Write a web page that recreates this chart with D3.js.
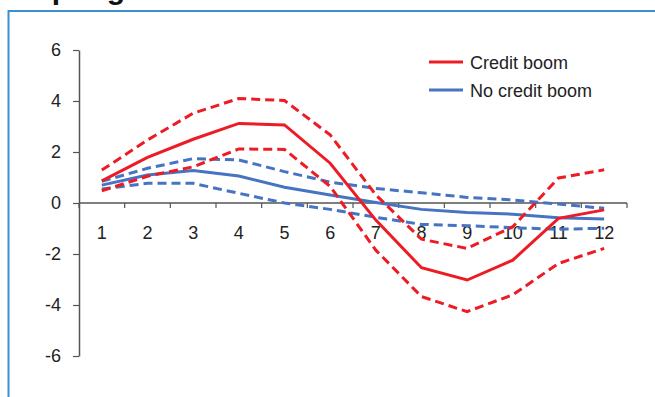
<!DOCTYPE html>
<html>
<head>
<meta charset="utf-8">
<script src="https://cdn.jsdelivr.net/npm/d3@7"></script>
<style>
  html, body { margin: 0; padding: 0; background: #fff; }
  svg { display: block; font-family: Arial, "Liberation Sans", Helvetica, sans-serif; }
</style>
</head>
<body>
<svg id="chart" width="655" height="397"></svg>
<script>
const categories = ["1","2","3","4","5","6","7","8","9","10","11","12"];
const yTicks = [-6, -4, -2, 0, 2, 4, 6];
const creditBoom      = [0.87, 1.79, 2.50, 3.12, 3.06, 1.56, -0.67, -2.54, -3.02, -2.24, -0.60, -0.27];
const creditBoomUpper = [1.29, 2.47, 3.52, 4.10, 4.02, 2.67, 0.32, -1.42, -1.78, -0.93, 0.98, 1.30];
const creditBoomLower = [0.48, 1.05, 1.42, 2.12, 2.10, 0.65, -1.85, -3.67, -4.26, -3.60, -2.37, -1.78];
const noCreditBoom      = [0.70, 1.10, 1.27, 1.06, 0.62, 0.31, 0.02, -0.25, -0.37, -0.44, -0.58, -0.63];
const noCreditBoomUpper = [0.85, 1.36, 1.74, 1.69, 1.23, 0.82, 0.57, 0.40, 0.22, 0.12, -0.04, -0.21];
const noCreditBoomLower = [0.55, 0.77, 0.77, 0.38, 0.00, -0.25, -0.56, -0.84, -0.89, -0.97, -1.03, -0.99];
const legendLabels = ["Credit boom", "No credit boom"];
const titleText = "Output growth";

const RED = "#ED1C24", BLUE = "#4673C2", FRAME = "#3B8FD0", AXIS = "#555";
const FS = 18;

const svg = d3.select("#chart");

// cut-off title above frame (only descenders visible, as in the reference)
svg.append("text").attr("x", 0).attr("y", -1.5)
  .attr("font-size", 30).attr("font-weight", "bold").attr("fill", "#111")
  .text(titleText);

// frame
svg.append("line").attr("x1", 8).attr("x2", 655).attr("y1", 11).attr("y2", 11)
  .attr("stroke", FRAME).attr("stroke-width", 2);
svg.append("line").attr("x1", 8.5).attr("x2", 8.5).attr("y1", 10).attr("y2", 397)
  .attr("stroke", FRAME).attr("stroke-width", 2);

const x = d3.scaleBand().domain(categories).range([79, 627]).padding(0);
const y = d3.scaleLinear().domain([-6, 6]).range([356, 50]);
const cx = c => x(c) + x.bandwidth() / 2;

// y axis
const yAxis = d3.axisLeft(y).tickValues(yTicks).tickSize(6).tickSizeOuter(0).tickPadding(12)
  .tickFormat(d => String(d));
const gy = svg.append("g").attr("transform", "translate(79,0)").call(yAxis);
gy.select(".domain").attr("stroke", AXIS).attr("stroke-width", 1.5);
gy.selectAll(".tick line").attr("stroke", AXIS).attr("stroke-width", 1.2);
gy.selectAll(".tick text").attr("font-size", FS).attr("fill", "#222")
  .attr("font-family", "Arial, 'Liberation Sans', sans-serif");

// x axis at zero: tick marks at band boundaries
const xAxisG = svg.append("g");
xAxisG.append("line").attr("x1", x.range()[0]).attr("x2", x.range()[1])
  .attr("y1", y(0)).attr("y2", y(0)).attr("stroke", AXIS).attr("stroke-width", 1.5);
const bounds = categories.map(c => x(c)).concat([x.range()[1]]);
xAxisG.selectAll("line.tk").data(bounds).join("line").attr("class", "tk")
  .attr("x1", d => d).attr("x2", d => d).attr("y1", y(0)).attr("y2", y(0) + 5)
  .attr("stroke", AXIS).attr("stroke-width", 1.2);
xAxisG.selectAll("text").data(categories).join("text")
  .attr("x", d => cx(d)).attr("y", y(0) + 36).attr("text-anchor", "middle")
  .attr("font-size", FS).attr("fill", "#222").text(d => d);

// lines
const line = d3.line().x((d, i) => cx(categories[i])).y(d => y(d));
const series = [
  { v: noCreditBoomUpper, c: BLUE, dash: "9,5" },
  { v: noCreditBoomLower, c: BLUE, dash: "9,5" },
  { v: noCreditBoom, c: BLUE, dash: null },
  { v: creditBoomUpper, c: RED, dash: "9,5" },
  { v: creditBoomLower, c: RED, dash: "9,5" },
  { v: creditBoom, c: RED, dash: null }
];
svg.selectAll("path.series").data(series).join("path").attr("class", "series")
  .attr("d", d => line(d.v)).attr("fill", "none")
  .attr("stroke", d => d.c).attr("stroke-width", 3)
  .attr("stroke-dasharray", d => d.dash)
  .attr("stroke-linejoin", "miter");

// legend
const lg = svg.append("g");
const legendColors = [RED, BLUE];
legendLabels.forEach((lab, i) => {
  const ly = 62 + i * 28;
  lg.append("line").attr("x1", 429).attr("x2", 463).attr("y1", ly).attr("y2", ly)
    .attr("stroke", legendColors[i]).attr("stroke-width", 3);
  lg.append("text").attr("x", 470).attr("y", ly + 6.5).attr("font-size", FS)
    .attr("fill", "#222").text(lab);
});
</script>
</body>
</html>
